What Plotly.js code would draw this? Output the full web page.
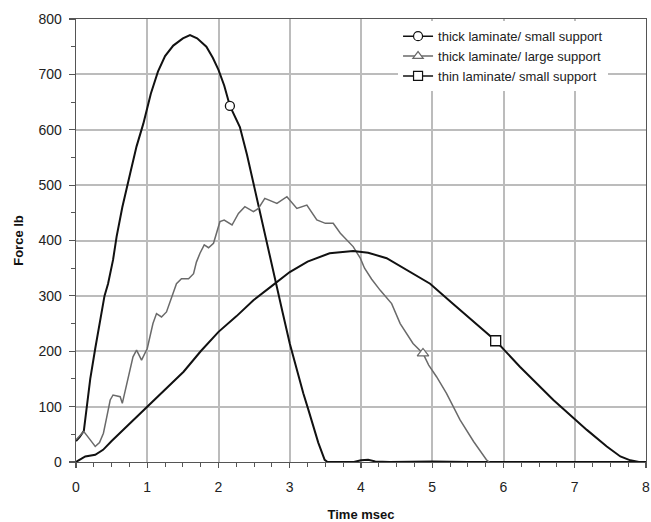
<!DOCTYPE html>
<html>
<head>
<meta charset="utf-8">
<script src="https://cdn.plot.ly/plotly-3.0.1.min.js"></script>
<style>html,body{margin:0;padding:0;background:#fff;}#chart{width:651px;height:522px;}</style>
</head>
<body>
<div id="chart"></div>
<script>
// Series names
const seriesNames = ["thick laminate/ small support", "thick laminate/ large support", "thin laminate/ small support"];

// thick laminate / small support
const thickSmallX = [0,0.05,0.11,0.16,0.2,0.27,0.32,0.36,0.4,0.45,0.52,0.57,0.65,0.76,0.85,0.945,1.05,1.15,1.25,1.365,1.5,1.6,1.7,1.83,1.92,2.0,2.08,2.16,2.23,2.3,2.4,2.49,2.56,2.63,2.7,2.79,2.9,3.0,3.1,3.19,3.26,3.33,3.4,3.49,3.53,3.9,4.0,4.1,4.2,4.4,5.0,5.5,6.0,6.3,6.5,7.0,7.5,8.0];
const thickSmallY = [38,45,56,110,150,205,240,271,300,322,365,407,460,521,570,611,665,705,733,752,765,771,765,750,730,708,680,643,625,605,555,503,465,425,385,329,270,214,165,124,95,64,35,4,0,0,3,4,1,0,1,0,0,1,0,0,1,0];

// thick laminate / large support
const thickLargeX = [0,0.11,0.2,0.27,0.33,0.385,0.43,0.48,0.52,0.62,0.65,0.73,0.8,0.85,0.92,1.0,1.08,1.13,1.2,1.27,1.41,1.48,1.58,1.65,1.69,1.74,1.8,1.86,1.93,2.02,2.08,2.19,2.28,2.37,2.49,2.56,2.65,2.82,2.96,3.1,3.24,3.38,3.5,3.61,3.71,3.89,3.99,4.05,4.15,4.27,4.43,4.55,4.73,4.87,4.95,5.06,5.2,5.39,5.58,5.76,5.8];
const thickLargeY = [40,55,40,28,35,52,80,112,121,118,106,148,190,202,184,205,250,268,262,271,322,331,331,340,361,377,392,387,395,434,437,428,449,461,452,458,476,467,479,458,464,437,431,431,413,389,368,350,330,310,286,250,214,196,175,154,124,76,37,4,0];

// thin laminate / small support
const thinSmallX = [0,0.13,0.27,0.38,0.5,0.66,0.8,1.0,1.25,1.51,1.75,2.0,2.25,2.49,2.75,3.0,3.25,3.56,3.89,4.1,4.36,4.6,4.97,5.29,5.67,5.89,6.23,6.7,7.17,7.45,7.64,7.78,7.9,8.0];
const thinSmallY = [0,10,13,22,38,58,75,100,130,163,200,235,263,292,318,343,362,377,381,378,368,350,322,286,244,219,172,112,58,28,10,3,0,0];

// index of the single marker drawn on each curve
const markerIndex = [27, 53, 25];

const xTickVals = [0,1,2,3,4,5,6,7,8];
const yTickVals = [0,100,200,300,400,500,600,700,800];

const lineColors = ["#111111", "#6a6a6a", "#111111"];
const lineWidths = [2, 1.5, 2];
const symbols = ["circle", "triangle-up", "square"];
const xs = [thickSmallX, thickLargeX, thinSmallX];
const ys = [thickSmallY, thickLargeY, thinSmallY];

const traces = [];
for (let i = 0; i < 3; i++) {
  traces.push({
    x: xs[i], y: ys[i], type: "scatter", mode: "lines",
    line: {color: lineColors[i], width: lineWidths[i]},
    showlegend: false, hoverinfo: "skip"
  });
}
for (let i = 0; i < 3; i++) {
  traces.push({
    x: [xs[i][markerIndex[i]]], y: [ys[i][markerIndex[i]]], type: "scatter", mode: "markers",
    marker: {symbol: symbols[i], size: i === 0 ? 9 : 10, color: "#ffffff", line: {color: lineColors[i], width: 1.3}},
    showlegend: false, hoverinfo: "skip", cliponaxis: false
  });
}
for (let i = 0; i < 3; i++) {
  traces.push({
    x: [null], y: [null], type: "scatter", mode: "lines+markers", name: seriesNames[i],
    line: {color: lineColors[i], width: 1.5},
    marker: {symbol: symbols[i], size: 9, color: "#ffffff", line: {color: lineColors[i], width: 1.2}}
  });
}

const layout = {
  width: 651, height: 522,
  margin: {l: 76, r: 5, t: 19, b: 60},
  paper_bgcolor: "#ffffff", plot_bgcolor: "#ffffff",
  font: {family: "Arial, 'Liberation Sans', sans-serif", color: "#222222"},
  showlegend: true,
  legend: {
    x: 0.565, y: 0.995, xanchor: "left", yanchor: "top",
    bgcolor: "#ffffff", borderwidth: 0,
    font: {size: 13, color: "#222222"},
    tracegroupgap: 0
  },
  xaxis: {
    range: [0, 8], tickvals: xTickVals, ticktext: xTickVals.map(String),
    showgrid: true, gridcolor: "#bcbcbc", gridwidth: 2,
    showline: true, linecolor: "#555555", linewidth: 1.3, mirror: true,
    ticks: "outside", ticklen: 5, tickcolor: "#555555", tickwidth: 1.2,
    minor: {dtick: 0.25, ticks: "outside", ticklen: 4, tickcolor: "#555555", tickwidth: 1, showgrid: false},
    tickfont: {size: 14, color: "#222222"},
    ticklabelstandoff: 7,
    zeroline: false,
    title: {text: "<b>Time msec</b>", font: {size: 13, color: "#111111"}, standoff: 16}
  },
  yaxis: {
    range: [0, 800], tickvals: yTickVals, ticktext: yTickVals.map(String),
    showgrid: true, gridcolor: "#bcbcbc", gridwidth: 2,
    showline: true, linecolor: "#555555", linewidth: 1.3, mirror: true,
    ticks: "outside", ticklen: 6, tickcolor: "#555555", tickwidth: 1.2,
    minor: {dtick: 50, ticks: "outside", ticklen: 4, tickcolor: "#555555", tickwidth: 1, showgrid: false},
    tickfont: {size: 14, color: "#222222"},
    ticklabelstandoff: 4,
    zeroline: false,
    title: {text: "<b>Force lb</b>", font: {size: 13, color: "#111111"}, standoff: 12}
  }
};

Plotly.newPlot("chart", traces, layout, {displayModeBar: false, staticPlot: true});
</script>
</body>
</html>
